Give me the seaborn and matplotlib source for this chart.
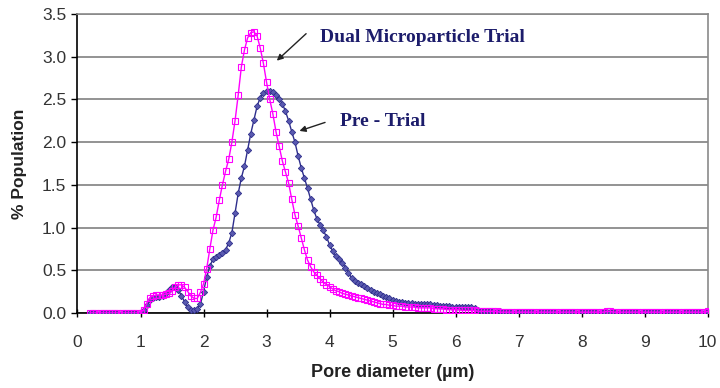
import numpy as np
import pandas as pd
import matplotlib
matplotlib.use("Agg")
import matplotlib.pyplot as plt
import seaborn as sns

# Pore diameter grid (um), 0.20 .. 10.00 step 0.05
diameter = np.round(np.arange(0.20, 10.001, 0.05), 2)

dual_trial = [
    # 0.20 - 1.15
    0, 0, 0, 0, 0, 0, 0, 0, 0, 0, 0, 0, 0, 0, 0, 0, 0.0, 0.04, 0.11, 0.18,
    # 1.20 - 2.15
    0.20, 0.21, 0.21, 0.21, 0.22, 0.23, 0.26, 0.30, 0.33, 0.33,
    0.30, 0.25, 0.20, 0.17, 0.17, 0.24, 0.34, 0.52, 0.75, 0.97,
    # 2.20 - 3.15
    1.12, 1.32, 1.50, 1.66, 1.80, 2.00, 2.25, 2.55, 2.88, 3.08,
    3.22, 3.28, 3.29, 3.24, 3.10, 2.92, 2.70, 2.50, 2.33, 2.12,
    # 3.20 - 4.15
    1.95, 1.78, 1.65, 1.52, 1.33, 1.15, 1.02, 0.88, 0.74, 0.62,
    0.54, 0.48, 0.44, 0.40, 0.36, 0.33, 0.31, 0.28, 0.26, 0.25,
    # 4.20 - 5.15
    0.23, 0.22, 0.21, 0.20, 0.19, 0.18, 0.17, 0.16, 0.15, 0.14,
    0.13, 0.12, 0.11, 0.10, 0.10, 0.09, 0.09, 0.08, 0.08, 0.08,
    # 5.20 - 6.15
    0.07, 0.07, 0.07, 0.07, 0.06, 0.06, 0.06, 0.06, 0.06, 0.05,
    0.05, 0.05, 0.05, 0.04, 0.04, 0.04, 0.04, 0.04, 0.03, 0.03,
    # 6.20 - 7.15
    0.03, 0.03, 0.03, 0.02, 0.02, 0.02, 0.02, 0.02, 0.02, 0.02,
    0.01, 0.01, 0.01, 0.01, 0.01, 0.01, 0.01, 0.01, 0.01, 0.01,
    # 7.20 - 8.15
    0.01, 0.01, 0.01, 0.01, 0.01, 0.01, 0.01, 0.01, 0.01, 0.01,
    0.01, 0.01, 0.01, 0.01, 0.01, 0.01, 0.01, 0.01, 0.01, 0.01,
    # 8.20 - 9.15
    0.01, 0.01, 0.01, 0.01, 0.02, 0.02, 0.01, 0.01, 0.01, 0.01,
    0.01, 0.01, 0.01, 0.01, 0.01, 0.01, 0.01, 0.01, 0.01, 0.01,
    # 9.20 - 10.00
    0.01, 0.01, 0.01, 0.01, 0.01, 0.01, 0.01, 0.01, 0.01, 0.01,
    0.01, 0.01, 0.01, 0.01, 0.01, 0.01, 0.02,
]

pre_trial = [
    # 0.20 - 1.15
    0, 0, 0, 0, 0, 0, 0, 0, 0, 0, 0, 0, 0, 0, 0, 0, 0.0, 0.03, 0.09, 0.15,
    # 1.20 - 2.15
    0.18, 0.19, 0.19, 0.20, 0.23, 0.27, 0.31, 0.31, 0.27, 0.20,
    0.13, 0.07, 0.04, 0.03, 0.05, 0.10, 0.25, 0.42, 0.55, 0.63,
    # 2.20 - 3.15
    0.66, 0.68, 0.70, 0.74, 0.82, 0.94, 1.17, 1.40, 1.58, 1.72,
    1.91, 2.10, 2.26, 2.42, 2.52, 2.57, 2.60, 2.60, 2.58, 2.55,
    # 3.20 - 4.15
    2.50, 2.45, 2.36, 2.25, 2.12, 2.00, 1.84, 1.70, 1.58, 1.46,
    1.33, 1.20, 1.10, 1.03, 0.97, 0.89, 0.80, 0.72, 0.67, 0.63,
    # 4.20 - 5.15
    0.59, 0.53, 0.47, 0.41, 0.37, 0.35, 0.34, 0.32, 0.29, 0.27,
    0.25, 0.23, 0.22, 0.20, 0.19, 0.17, 0.15, 0.14, 0.13, 0.13,
    # 5.20 - 6.15
    0.12, 0.12, 0.12, 0.11, 0.11, 0.11, 0.10, 0.10, 0.10, 0.09,
    0.09, 0.08, 0.08, 0.08, 0.08, 0.07, 0.07, 0.07, 0.07, 0.07,
    # 6.20 - 7.15
    0.07, 0.07, 0.06, 0.03, 0.02, 0.02, 0.02, 0.02, 0.02, 0.02,
    0.02, 0.01, 0.01, 0.01, 0.01, 0.01, 0.01, 0.01, 0.01, 0.01,
    # 7.20 - 8.15
    0.01, 0.01, 0.01, 0.01, 0.01, 0.01, 0.01, 0.01, 0.01, 0.01,
    0.01, 0.01, 0.01, 0.01, 0.01, 0.01, 0.01, 0.01, 0.01, 0.01,
    # 8.20 - 9.15
    0.01, 0.01, 0.01, 0.01, 0.01, 0.01, 0.01, 0.01, 0.01, 0.01,
    0.01, 0.01, 0.01, 0.01, 0.01, 0.01, 0.01, 0.01, 0.01, 0.01,
    # 9.20 - 10.00
    0.01, 0.01, 0.01, 0.01, 0.01, 0.01, 0.01, 0.01, 0.01, 0.01,
    0.01, 0.01, 0.01, 0.01, 0.01, 0.01, 0.01,
]

x_ticks = [0, 1, 2, 3, 4, 5, 6, 7, 8, 9, 10]
y_ticks = [0.0, 0.5, 1.0, 1.5, 2.0, 2.5, 3.0, 3.5]
label_dual = "Dual Microparticle Trial"
label_pre = "Pre - Trial"

sns.set_theme(style="white")
plt.rcParams["font.family"] = ["Liberation Sans", "DejaVu Sans"]

df_pre = pd.DataFrame({"d": diameter, "p": pre_trial})
df_dual = pd.DataFrame({"d": diameter, "p": dual_trial})

fig = plt.figure(figsize=(7.2, 3.88), dpi=100)
ax = fig.add_axes([0.1076, 0.1933, 0.8754, 0.771])

navy = "#2E2E8C"
pink = "#FF00FF"

sns.lineplot(data=df_pre, x="d", y="p", ax=ax, color=navy, lw=1.0,
             marker="D", markersize=3.2, markerfacecolor="#5A5AB0",
             markeredgecolor=navy, markeredgewidth=0.6, zorder=3)
sns.lineplot(data=df_dual, x="d", y="p", ax=ax, color=pink, lw=1.0,
             marker="s", markersize=4.2, markerfacecolor="none",
             markeredgecolor=pink, markeredgewidth=0.8, zorder=4)

ax.set_xlim(0, 10)
ax.set_ylim(0, 3.5)
ax.set_xticks(x_ticks)
ax.set_xticklabels([str(t) for t in x_ticks])
ax.set_yticks(y_ticks)
ax.set_yticklabels([f"{t:.1f}" for t in y_ticks])
ax.yaxis.grid(True, color="#8a8a8a", lw=1.3)
ax.xaxis.grid(False)
ax.set_axisbelow(True)

for s in ["left", "bottom"]:
    ax.spines[s].set_color("black")
    ax.spines[s].set_linewidth(1.2)
for s in ["top", "right"]:
    ax.spines[s].set_color("#8a8a8a")
    ax.spines[s].set_linewidth(1.2)

ax.tick_params(axis="x", direction="inout", length=6, width=1, color="black",
               labelsize=12.5, labelcolor="#333333", pad=13)
ax.tick_params(axis="y", direction="out", length=4, width=1, color="black",
               labelsize=12.5, labelcolor="#333333", pad=4)
ax.tick_params(left=True, bottom=True)

ax.set_xlabel("Pore diameter (\u00b5m)", fontsize=13, fontweight="bold",
              color="#222222", labelpad=10)
ax.set_ylabel("% Population", fontsize=12.5, fontweight="bold",
              color="#222222", labelpad=11)

txt_color = "#1C1C6B"
ax.text(3.85, 3.22, label_dual, fontsize=14, fontweight="bold",
        family=["Liberation Serif", "DejaVu Serif"], color=txt_color,
        va="center", ha="left")
ax.text(4.16, 2.24, label_pre, fontsize=14, fontweight="bold",
        family=["Liberation Serif", "DejaVu Serif"], color=txt_color,
        va="center", ha="left")
ax.annotate("", xy=(3.13, 2.93), xytext=(3.66, 3.29),
            arrowprops=dict(arrowstyle="-|>", color="#222222", lw=1.0,
                            mutation_scale=9))
ax.annotate("", xy=(3.48, 2.12), xytext=(3.97, 2.24),
            arrowprops=dict(arrowstyle="-|>", color="#222222", lw=1.0,
                            mutation_scale=9))

fig.savefig("out.png", dpi=100)
